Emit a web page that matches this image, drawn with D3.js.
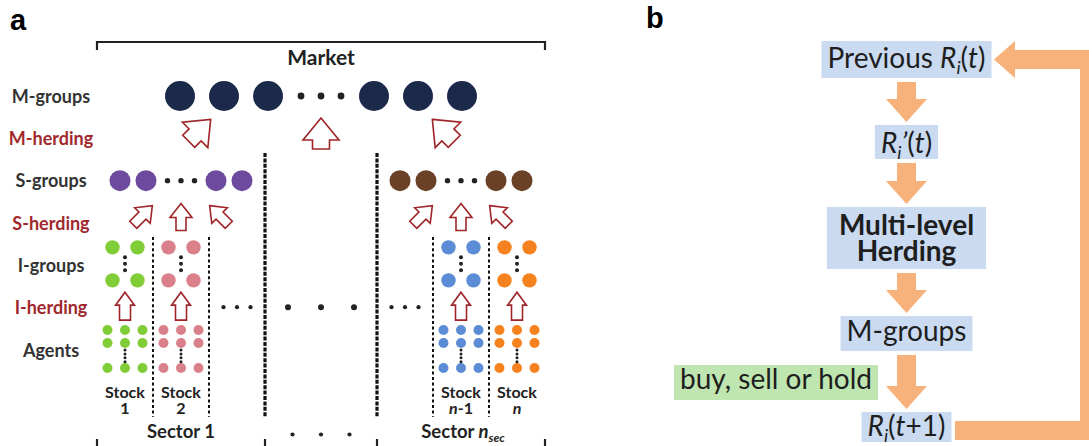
<!DOCTYPE html>
<html><head><meta charset="utf-8">
<script src="https://cdn.jsdelivr.net/npm/d3@7"></script>
<style>body{margin:0;background:#fff}svg{display:block;background:#fff}text{font-family:Lato,'Open Sans',sans-serif}</style>
</head><body><svg id="c" width="1089" height="446"></svg>
<script>
// ---------- data ----------
const rowLabels = ["M-groups","M-herding","S-groups","S-herding","I-groups","I-herding","Agents"];
const herdingRows = ["M-herding","S-herding","I-herding"];
const columnSlots = ["Stock 1","Stock 2","gapL","mid1","mid2","gapR","Stock n-1","Stock n"];
const stockSlots = ["Stock 1","Stock 2","Stock n-1","Stock n"];
const stockNumbers = [[["1",""]],[["2",""]],[["n","i"],["-1",""]],[["n","i"]]];
const stockColors = ["#80cd38","#d9808a","#5b8cd5","#f5821f"];
const sectorLabels = [[["Sector 1",""]],[["Sector ",""],["n","i"],["sec","is"]]];
const sectorSpans = [["Stock 1","gapL"],["gapR","Stock n"]];
const sectorColors = ["#6d4a9e","#6a4027"];
const mGroupColor = "#1b2a4a";
const mGroupsPerSide = 3, sGroupsPerSide = 2, agentCols = 3, iGroupCols = 2;
const flowLabels = [
  [["Previous ",""],["R","i"],["i","is"],["(",""],["t","i"],[")",""]],
  [["R","i"],["i","is"],["\u2019","i"],["(",""],["t","i"],[")",""]],
  [["Multi-level",""]],
  [["M-groups",""]],
  [["R","i"],["i","is"],["(",""],["t","i"],["+1)",""]]
];
const flowBold = [false,false,true,false,false];
const flowSecondLine = [null,null,[["Herding",""]],null,null];
const sideNote = [["buy, sell or hold",""]];

// ---------- layout ----------
const svg = d3.select("#c");
const x = d3.scaleBand().domain(columnSlots).range([97,545]);
const y = d3.scalePoint().domain(rowLabels).range([96,350]);
const xc = s => x(s) + x.bandwidth()/2;
const marketC = (x.range()[0]+x.range()[1])/2;
const sectorC = sectorSpans.map(([a,b]) => (x(a) + x(b) + x.bandwidth())/2);
const ink = "#222", red = "#a0282c", arrowRed = "#9e2428", orange = "#f7b27b";

function rich(sel, tx, ty, parts, size, weight, anchor, fill){
  const t = sel.append("text").attr("x",tx).attr("y",ty).attr("font-size",size)
    .attr("font-weight",weight).attr("text-anchor",anchor).attr("fill",fill);
  let sub = false;
  parts.forEach(([s,st])=>{
    const ts = t.append("tspan").text(s);
    if (st.includes("i")) ts.attr("font-style","italic");
    const isSub = st.includes("s");
    if (isSub){ ts.attr("font-size",size*0.65); if(!sub) ts.attr("dy",size*0.22); }
    else if (sub) ts.attr("dy",-size*0.22);
    sub = isSub;
  });
  return t;
}
function upArrow(hw, hh, sw, sh){
  const L = hh+sh, t = -L/2;
  return [[0,t],[hw/2,t+hh],[sw/2,t+hh],[sw/2,L/2],[-sw/2,L/2],[-sw/2,t+hh],[-hw/2,t+hh]];
}
function drawArrow(g, pts, cx, cy, rot){
  g.append("polygon").attr("points", pts.map(p=>p.join(",")).join(" "))
   .attr("transform",`translate(${cx},${cy}) rotate(${rot})`)
   .attr("fill","#fff").attr("stroke",arrowRed).attr("stroke-width",1.6).attr("stroke-linejoin","miter");
}
function dots(g, pts, r){
  g.selectAll(null).data(pts).join("circle").attr("cx",d=>d[0]).attr("cy",d=>d[1]).attr("r",r).attr("fill",ink);
}

// ---------- panel a ----------
const A = svg.append("g");
A.append("text").attr("x",10).attr("y",30).attr("font-size",29).attr("font-weight","bold")
  .style("font-family","'Liberation Sans',Arial,sans-serif").attr("fill","#000").text("a");

// row labels
A.selectAll(".rl").data(rowLabels).join("text").attr("class","rl")
  .attr("x",51).attr("y",d=>y(d)+6.5).attr("text-anchor","middle").attr("font-size",18).attr("font-weight","bold")
  .attr("fill",d=>herdingRows.includes(d)?red:"#333").text(d=>d);

// top bracket
const [bx0,bx1] = x.range();
A.append("path").attr("d",`M${bx0},50V42H${bx1}V50`).attr("fill","none").attr("stroke",ink).attr("stroke-width",2.2);
A.append("text").attr("x",marketC).attr("y",65).attr("text-anchor","middle").attr("font-size",21)
  .attr("font-weight","bold").attr("fill",ink).text("Market");

// M-groups
const yM = y("M-groups");
const mOff = d3.range(mGroupsPerSide).map(i=>53+44*i);
A.selectAll(".mg").data([...mOff.map(o=>-o),...mOff]).join("circle").attr("class","mg")
  .attr("cx",o=>marketC+o).attr("cy",yM).attr("r",15).attr("fill",mGroupColor);
dots(A,[-20,0,20].map(o=>[marketC+o,yM]),3.4);

// M-herding arrows
const yMH = y("M-herding")-4.8;
drawArrow(A, upArrow(36,22,17,9), marketC, yMH, 0);
drawArrow(A, upArrow(36,22,17,9), marketC-121.3, yMH-3.2, 45);
drawArrow(A, upArrow(36,22,17,9), marketC+122.3, yMH-3.2, -45);

// sector separators (thick dashed)
const sepX = [x("mid1"), x("gapR")];
A.selectAll(".sep").data(sepX).join("line").attr("class","sep")
  .attr("x1",d=>d).attr("x2",d=>d).attr("y1",153).attr("y2",417)
  .attr("stroke","#111").attr("stroke-width",3.2).attr("stroke-dasharray","4,1.4");

// S-groups + S-herding
const yS = y("S-groups"), ySH = y("S-herding")-6;
sectorC.forEach((c,k)=>{
  const sOff = d3.range(sGroupsPerSide).map(i=>35+26*i);
  A.selectAll(null).data([...sOff.map(o=>-o),...sOff]).join("circle")
    .attr("cx",o=>c+o).attr("cy",yS).attr("r",10.5).attr("fill",sectorColors[k]);
  dots(A,[-13.5,0,13.5].map(o=>[c+o,yS]),2.7);
  const ua = upArrow(22,14,10,13);
  drawArrow(A, ua, c, ySH, 0);
  drawArrow(A, ua, c-38.2, ySH-1.8, 45);
  drawArrow(A, ua, c+38.2, ySH-1.8, -45);
});

// stock dotted separators
const stockSep = [x("Stock 2"), x("gapL"), x("Stock n"), x("Stock n-1")];
A.selectAll(".ssep").data(stockSep).join("line").attr("class","ssep")
  .attr("x1",d=>d).attr("x2",d=>d).attr("y1",237).attr("y2",417)
  .attr("stroke","#111").attr("stroke-width",2).attr("stroke-dasharray","3,2.6");

// stocks
const yI = y("I-groups"), yIH = y("I-herding")-1.5, yA = y("Agents");
stockSlots.forEach((s,k)=>{
  const c = xc(s), col = stockColors[k];
  const iRows = [yI-18, yI+15];
  const iCols = d3.range(iGroupCols).map(i=>c-12.5+25*i);
  iRows.forEach(r=>A.selectAll(null).data(iCols).join("circle").attr("cx",d=>d).attr("cy",r).attr("r",7.2).attr("fill",col));
  dots(A,[-6.5,0,6.5].map(o=>[c,(iRows[0]+iRows[1])/2+o]),2);
  drawArrow(A, upArrow(19,13,11,15), c, yIH, 0);
  const aRows = [yA-20, yA-7, yA+18];
  const aCols = d3.range(agentCols).map(i=>c-17.5+17.5*i);
  aRows.forEach(r=>A.selectAll(null).data(aCols).join("circle").attr("cx",d=>d).attr("cy",r).attr("r",5).attr("fill",col));
  dots(A,[0,1,2,3].map(i=>[c,yA+0+i*3.9]),1.5);
  rich(A, c, 398, [["Stock",""]], 16, "bold", "middle", ink);
  rich(A, c, 414, stockNumbers[k], 16, "bold", "middle", ink);
});

// ellipsis dots in middle row
const yMid = y("I-herding")-0.5;
dots(A,[-13.5,0,13.5].map(o=>[xc("gapL")+o,yMid]),2.1);
dots(A,[-33,0,33].map(o=>[marketC+o,yMid]),3);
dots(A,[-13.5,0,13.5].map(o=>[xc("gapR")+o,yMid]),2.1);

// bottom bracket ticks + sector labels
const tickX = [bx0, sepX[0], sepX[1], bx1];
A.selectAll(".bt").data(tickX).join("line").attr("class","bt")
  .attr("x1",d=>d).attr("x2",d=>d).attr("y1",439).attr("y2",447).attr("stroke",ink).attr("stroke-width",2.2);
sectorC.forEach((c,k)=>rich(A, c+(k?2:0), 438, sectorLabels[k], 18.5, "bold", "middle", ink));
dots(A,[-28.5,0,28.5].map(o=>[marketC+o,434.5]),2.1);

// ---------- panel b ----------
const B = svg.append("g");
B.append("text").attr("x",646).attr("y",28).attr("font-size",29).attr("font-weight","bold")
  .style("font-family","'Liberation Sans',Arial,sans-serif").attr("fill","#000").text("b");
const fx = 906.5;
const boxY = [[41,78],[125,159],[207,269],[316,351],[412,442]];
const baseY = [68,153,235,341,436];
const boxFill = "#c9daf1";
boxY.forEach((yy,k)=>{
  const g = B.append("g");
  const rect = g.append("rect").attr("fill",boxFill);
  const t = rich(g, fx, baseY[k], flowLabels[k], 28, flowBold[k]?"bold":"normal", "middle", "#1e1e1e");
  let w = t.node().getComputedTextLength();
  if (flowSecondLine[k]){
    const t2 = rich(g, fx, baseY[k]+26, flowSecondLine[k], 28, "bold", "middle", "#1e1e1e");
    w = Math.max(w, t2.node().getComputedTextLength());
  }
  const pad = flowBold[k]?12:6;
  rect.attr("x",fx-w/2-pad).attr("width",w+2*pad).attr("y",yy[0]).attr("height",yy[1]-yy[0]);
});
// down arrows
d3.pairs(boxY).forEach(([a,b])=>{
  const top=a[1]+4, tip=b[0]-3, hh=23;
  B.append("polygon").attr("fill",orange).attr("points",
    [[fx-9.5,top],[fx+9.5,top],[fx+9.5,tip-hh],[fx+20.5,tip-hh],[fx,tip],[fx-20.5,tip-hh],[fx-9.5,tip-hh]].map(p=>p.join(",")).join(" "));
});
// side note
const gn = B.append("g");
const rn = gn.append("rect").attr("fill","#bfe6b1");
const tn = rich(gn, 872, 389, sideNote, 28, "normal", "end", "#1e1e1e");
const wn = tn.node().getComputedTextLength();
rn.attr("x",872-wn-6).attr("width",wn+12).attr("y",365).attr("height",35);
// feedback loop
B.append("path").attr("d","M955,430.5H1089.5V59.5H1014").attr("fill","none").attr("stroke",orange)
  .attr("stroke-width",19).attr("stroke-linejoin","miter");
B.append("polygon").attr("fill",orange).attr("points","1015,41 1015,78 994,59.5");
</script></body></html>
